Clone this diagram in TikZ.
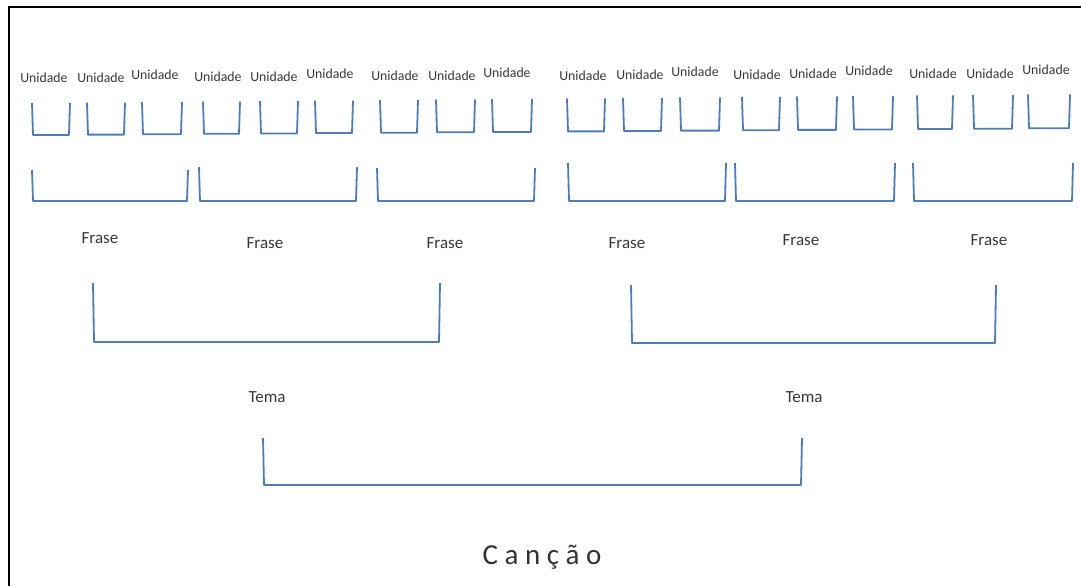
\documentclass[tikz,border=0pt]{standalone}
\usepackage{fontspec}
\setmainfont{Carlito}
\definecolor{brk}{RGB}{79,124,182}
\definecolor{txt}{RGB}{55,55,55}
\begin{document}
\begin{tikzpicture}[x=1pt,y=-1pt,
  brkline/.style={draw=brk, line width=1.8pt, line join=round},
  unitlbl/.style={font=\fontsize{13.8}{15}\selectfont, text=txt, inner sep=0pt},
  lvllbl/.style={font=\fontsize{17}{19}\selectfont, text=txt, inner sep=0pt},
  titlelbl/.style={font=\fontsize{29}{32}\selectfont, text=black!80, inner sep=0pt}]
\useasboundingbox (0,0) rectangle (1081,586);
% frame
\draw[line width=2pt] (9,586) -- (9,7) -- (1081,7);
% unit labels
\foreach \x [count=\i] in {44,101,155,218,274,330,395,452,507,583,640,695,757,813,869,933,990,1046}{
  \pgfmathsetmacro{\yy}{78-(\x-44)*5/1000-(mod(\i,3)==0 ? 3 : 0)}
  \node[unitlbl] (u\i) at (\x,\yy) {Unidade};
}
% unit brackets
\foreach \a/\b [count=\i] in {32/70,87/125,142/182,203/240,260/298,315/353,380/418,436/475,492/532,567/605,623/662,680/720,742/780,797/837,853/893,917/953,973/1013,1028/1070}{
  \pgfmathsetmacro{\yt}{103-(\a-32)*9/1040}
  \pgfmathsetmacro{\yb}{135-(\a-32)*7/1040}
  \draw[brkline] (\a,\yt) -- (\a+1,\yb) -- (\b-1,\yb) -- (\b,\yt);
}
% phrase brackets
\foreach \a/\b/\t [count=\i] in {32/188/170,199/357/167,377/535/168,568/726/163,735/895/163,913/1073/163}{
  \draw[brkline] (\a,\t) -- (\a+1,201) -- (\b-1,201) -- (\b,\t);
}
% phrase labels
\foreach \x/\y [count=\i] in {100/238,265/243,445/243,627/243,801/240,989/240}{
  \node[lvllbl] (f\i) at (\x,\y) {Frase};
}
% theme brackets
\draw[brkline] (93,283) -- (94,342) -- (439,342) -- (440,283);
\draw[brkline] (631,285) -- (632,343) -- (995,343) -- (996,285);
\node[lvllbl] (t1) at (267,397) {Tema};
\node[lvllbl] (t2) at (804,397) {Tema};
% song bracket
\draw[brkline] (263,438) -- (264,485) -- (801,485) -- (802,438);
\node[titlelbl] (c) at (542,557) {C a n ç ã o};
\end{tikzpicture}
\end{document}
